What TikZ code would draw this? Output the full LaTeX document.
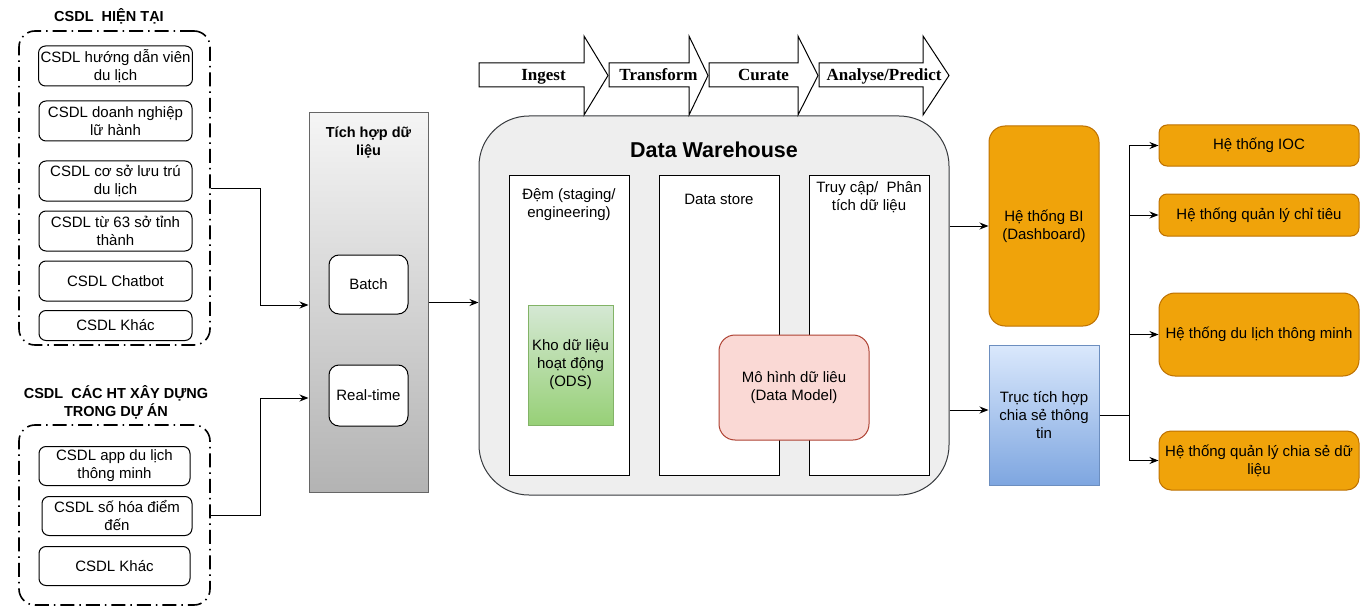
\documentclass[tikz,border=0pt]{standalone}
\usepackage{fontspec}
\setmainfont{Liberation Sans}
\newfontfamily\stepfont{Liberation Serif}
\usepackage{tikz}
\usetikzlibrary{positioning,arrows.meta,calc}

\definecolor{orangeFill}{HTML}{F0A30A}
\definecolor{orangeLine}{HTML}{BD7000}
\definecolor{blueTop}{HTML}{DAE8FC}
\definecolor{blueBot}{HTML}{7EA6E0}
\definecolor{blueLine}{HTML}{6C8EBF}
\definecolor{greenTop}{HTML}{D5E8D4}
\definecolor{greenBot}{HTML}{97D077}
\definecolor{greenLine}{HTML}{82B366}
\definecolor{pinkFill}{HTML}{FAD9D5}
\definecolor{pinkLine}{HTML}{AE4132}
\definecolor{dwFill}{HTML}{EEEEEE}
\definecolor{dwLine}{HTML}{36393D}
\definecolor{grayTop}{HTML}{F5F5F5}
\definecolor{grayBot}{HTML}{B3B3B3}
\definecolor{grayLine}{HTML}{666666}

\begin{document}
\begin{tikzpicture}[x=1pt,y=-1pt,line width=1pt,>={Stealth[length=9pt,width=7pt]},
   font=\fontsize{15}{18}\selectfont,
   box/.style={draw,align=center,inner sep=2pt},
   db/.style={box,rounded corners=7pt,minimum width=153pt,minimum height=40pt},
   grp/.style={draw,line width=1.6pt,rounded corners=16pt,dash pattern=on 14pt off 5pt on 1.5pt off 5pt,minimum width=191pt},
   title/.style={font=\fontsize{14.5}{18}\selectfont\bfseries,align=center},
   mode/.style={box,fill=white,rounded corners=10pt,minimum width=79pt,minimum height=60pt},
   col/.style={draw,fill=white,minimum width=120pt,minimum height=300pt},
   coltext/.style={align=center},
   sys/.style={box,fill=orangeFill,draw=orangeLine,rounded corners=8pt,minimum width=200pt},
   flow/.style={draw,fill=white},
   flowtext/.style={font=\stepfont\bfseries\fontsize{17}{20}\selectfont}]
   \useasboundingbox (0,0) rectangle (1360,607);

   % CSDL hien tai
   \node[grp,minimum height=314pt] (grp_1) at (114.5,188) {};
   \node[title] (grp_1_title) at (109,16) {CSDL\ \ HIỆN TẠI};
   \node[db] (db_1) at (115.5,66) {CSDL hướng dẫn viên\\du lịch};
   \node[db] (db_2) at (115.5,121) {CSDL doanh nghiệp\\lữ hành};
   \node[db] (db_3) at (115.5,181) {CSDL cơ sở lưu trú\\du lịch};
   \node[db] (db_4) at (115.5,231) {CSDL từ 63 sở tỉnh\\thành};
   \node[db] (db_5) at (115.5,281) {CSDL Chatbot};
   \node[db,minimum height=30pt] (db_6) at (115.5,325.5) {CSDL Khác};

   % CSDL cac HT trong du an
   \node[grp,minimum height=180pt] (grp_2) at (114.5,515) {};
   \node[title] (grp_2_title) at (116,402) {CSDL\ \ CÁC HT XÂY DỰNG\\TRONG DỰ ÁN};
   \node[db,minimum width=151pt,minimum height=39pt] (db_7) at (114.5,466) {CSDL app du lịch\\thông minh};
   \node[db,minimum width=150pt,minimum height=39pt] (db_8) at (117,516) {CSDL số hóa điểm\\đến};
   \node[db,minimum width=151pt,minimum height=39pt] (db_9) at (114.5,566) {CSDL Khác};

   % tich hop
   \node[box,top color=grayTop,bottom color=grayBot,draw=grayLine,minimum width=119pt,minimum height=379pt] (tich) at (368.5,302.5) {};
   \node[title] (tich_title) at (368.5,142) {Tích hợp dữ\\liệu};
   \node[mode,minimum height=59pt] (batch) at (368.5,284.5) {Batch};
   \node[mode,minimum height=61pt] (realtime) at (368.5,395.5) {Real-time};

   % data warehouse
   \node[draw=dwLine,fill=dwFill,rounded corners=50pt,minimum width=470pt,minimum height=379pt] (dw) at (714,305.5) {};
   \node[font=\fontsize{21.5}{25}\selectfont\bfseries] (dw_title) at (714,150) {Data Warehouse};
   \node[col] (col_1) at (569,325) {};
   \node[col] (col_2) at (719,325) {};
   \node[col] (col_3) at (869,325) {};
   \node[coltext] (col_1_text) at (569,205) {Đệm (staging/\\engineering)};
   \node[coltext] (col_2_text) at (719,199) {Data store};
   \node[coltext] (col_3_text) at (869,197) {Truy cập/\ \ Phân\\tích dữ liệu};
   \node[box,top color=greenTop,bottom color=greenBot,draw=greenLine,minimum width=85pt,minimum height=120pt] (ods) at (570.5,365) {Kho dữ liệu\\hoạt động\\(ODS)};
   \node[box,fill=pinkFill,draw=pinkLine,rounded corners=16pt,minimum width=150pt,minimum height=105pt] (model) at (794,387.5) {Mô hình dữ liêu\\(Data Model)};

   % cac buoc
   \foreach \xa/\xb/\xc/\txt/\nm in {479/584/608/Ingest/ingest,609/689/708/Transform/transform,709/798/818/Curate/curate,819/923/949/{Analyse/Predict}/analyse}
   {
      \draw[flow] (\xa,63) -- (\xb,63) -- (\xb,36) -- (\xc,75.5) -- (\xb,115) -- (\xb,87) -- (\xa,87) -- cycle;
      \node[flowtext,anchor=base] (\nm) at ({(\xa+\xc)/2},81) {\txt};
   }

   % he thong dau ra
   \node[box,fill=orangeFill,draw=orangeLine,rounded corners=16pt,minimum width=110pt,minimum height=200pt] (bi) at (1044,226) {Hệ thống BI\\(Dashboard)};
   \node[box,top color=blueTop,bottom color=blueBot,draw=blueLine,minimum width=110pt,minimum height=140pt] (truc) at (1044,415) {Trục tích hợp\\chia sẻ thông\\tin};
   \node[sys,minimum height=41pt] (sys_1) at (1259,145.5) {Hệ thống IOC};
   \node[sys,minimum height=42pt] (sys_2) at (1259,215) {Hệ thống quản lý chỉ tiêu};
   \node[sys,rounded corners=16pt,minimum height=83pt] (sys_3) at (1259,334.5) {Hệ thống du lịch thông minh};
   \node[sys,rounded corners=12pt,minimum height=59pt] (sys_4) at (1259,460.5) {Hệ thống quản lý chia sẻ dữ\\liệu};

   \draw[->] (grp_1.east) -- ++(50,0) |- ([yshift=-2.5pt]tich.west);
   \draw[->] (grp_2.east) -- ++(50,0) |- ([yshift=-95.5pt]tich.west);
   \path[->]
   (tich.east) edge (tich.east -| dw.west)
   (dw.east |- bi.west) edge (bi.west)
   ([yshift=5pt]dw.east |- truc.west) edge ([yshift=5pt]truc.west);
   \coordinate (hub) at (1129,415);
   \draw (truc.east) -- (hub);
   \foreach \s in {sys_1,sys_2,sys_3,sys_4}
      \draw[->] (hub) |- (\s.west);
\end{tikzpicture}
\end{document}
